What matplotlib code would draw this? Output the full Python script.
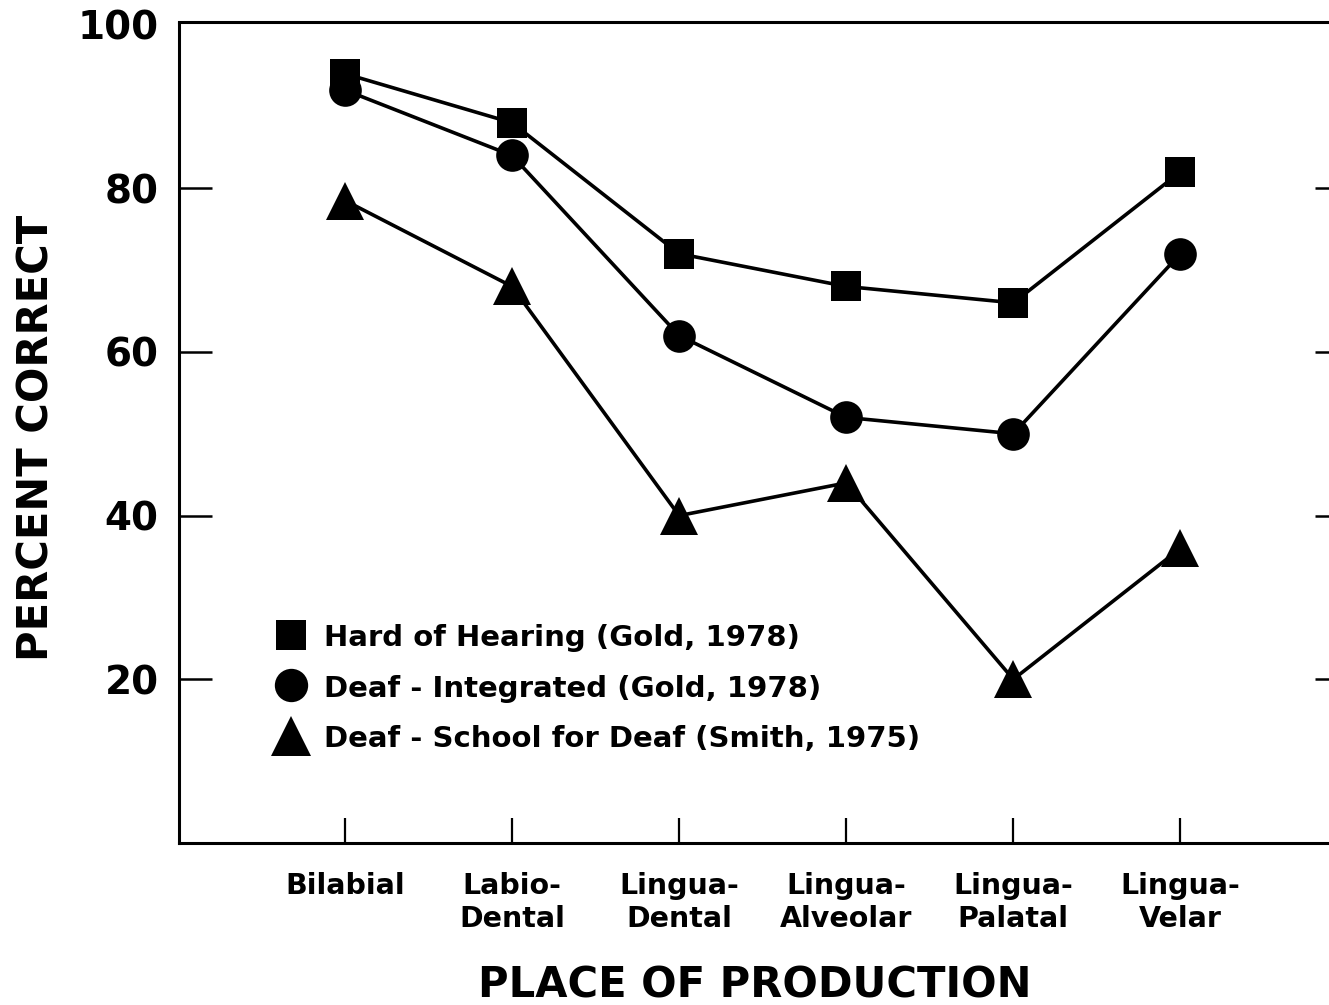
import matplotlib
matplotlib.use("Agg")
import matplotlib.pyplot as plt
from matplotlib.lines import Line2D

plt.rcParams['font.family'] = ['DejaVu Sans']
plt.rcParams['font.weight'] = 'bold'

categories = ["Bilabial", "Labio-\nDental", "Lingua-\nDental", "Lingua-\nAlveolar",
              "Lingua-\nPalatal", "Lingua-\nVelar"]
hard_of_hearing = [94, 88, 72, 68, 66, 82]
deaf_integrated = [92, 84, 62, 52, 50, 72]
deaf_school = [78.5, 68, 40, 44, 20, 36]
series_labels = ["Hard of Hearing (Gold, 1978)",
                 "Deaf - Integrated (Gold, 1978)",
                 "Deaf - School for Deaf (Smith, 1975)"]
y_ticks = [20, 40, 60, 80, 100]

W, H = 1329, 1005
fig = plt.figure(figsize=(W / 100, H / 100), dpi=100)
left_px, right_px, top_px, bottom_px = 179.5, 1329, 22.5, 843
ax = fig.add_axes([left_px / W, 1 - bottom_px / H,
                   (right_px - left_px) / W, (bottom_px - top_px) / H])

x = list(range(len(categories)))
lw = 2.6
ax.plot(x, hard_of_hearing, color='black', lw=lw, marker='s', ms=21, mew=0)
ax.plot(x, deaf_integrated, color='black', lw=lw, marker='o', ms=23.5, mew=0)
ax.plot(x, deaf_school, color='black', lw=lw, marker='^', ms=27, mew=0)

ax.set_xlim(-0.990, 5.889)
ax.set_ylim(0, 100.25)

for side in ['left', 'bottom', 'top']:
    ax.spines[side].set_linewidth(2.2)
ax.spines['right'].set_visible(False)

ax.set_yticks(y_ticks)
ax.set_yticklabels([str(v) for v in y_ticks], fontsize=28, fontweight='bold')
ax.tick_params(axis='y', direction='in', length=24, width=1.8, pad=15,
               left=True, right=True)
for v, t in zip(y_ticks, ax.yaxis.get_major_ticks()):
    t.tick2line.set_markersize(10)
    if v == 100:
        t.tick1line.set_visible(False)
        t.tick2line.set_visible(False)

ax.set_xticks(x)
ax.set_xticklabels(categories, fontsize=20.5, fontweight='bold', linespacing=1.2)
ax.tick_params(axis='x', direction='in', length=18, width=1.6, pad=21,
               bottom=True, top=False)

ax.set_xlabel("PLACE OF PRODUCTION", fontsize=30, fontweight='bold', va='baseline')
ax.xaxis.set_label_coords(0.5, -(997 - bottom_px) / (bottom_px - top_px))
ax.set_ylabel("PERCENT CORRECT", fontsize=30, fontweight='bold', ha='center', va='center')
ax.yaxis.set_label_coords((37 - left_px) / (right_px - left_px),
                          (bottom_px - 437.5) / (bottom_px - top_px))

handles = [Line2D([], [], color='black', ls='none', marker='s', ms=21, mew=0),
           Line2D([], [], color='black', ls='none', marker='o', ms=24, mew=0),
           Line2D([], [], color='black', ls='none', marker='^', ms=29, mew=0)]
ax.legend(handles, series_labels, loc='upper left',
          bbox_to_anchor=(270.5 / W, 1 - 623 / H), bbox_transform=fig.transFigure,
          frameon=False, borderpad=0, borderaxespad=0, handlelength=1.4,
          handleheight=1.0, handletextpad=0.45, labelspacing=0.74,
          prop={'size': 21, 'weight': 'bold'})

fig.savefig("out.png", dpi=100)
